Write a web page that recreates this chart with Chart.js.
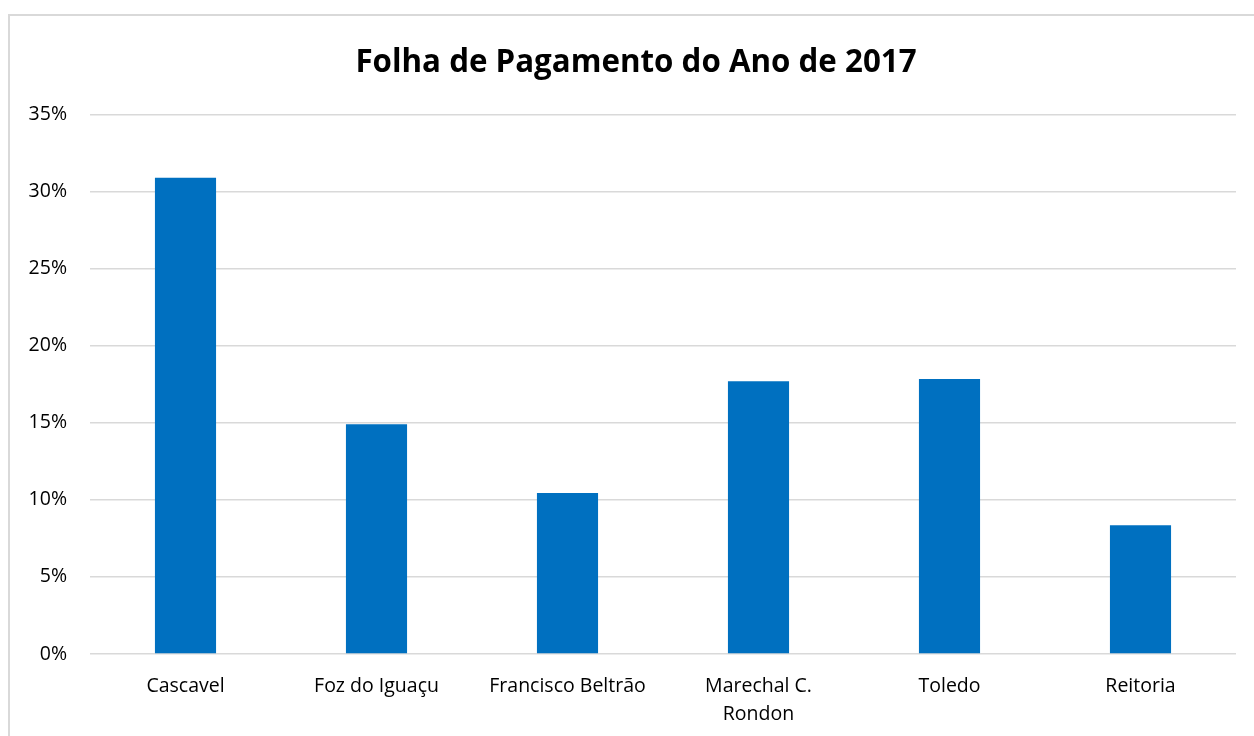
<!DOCTYPE html>
<html>
<head>
<meta charset="utf-8">
<script src="https://cdn.jsdelivr.net/npm/chart.js@4/dist/chart.umd.min.js"></script>
<style>
  html, body { margin: 0; padding: 0; background: #fff; overflow: hidden; }
  #frame { position: absolute; left: 8px; top: 14px; width: 1300px; height: 800px; border: 2px solid #d9d9d9; box-sizing: border-box; }
  #wrap { position: absolute; left: 0; top: 0; width: 1254px; height: 736px; }
</style>
</head>
<body>
<div id="frame"></div>
<div id="wrap"><canvas id="c" width="1254" height="736"></canvas></div>
<script>
const categories = ['Cascavel', 'Foz do Iguaçu', 'Francisco Beltrão', ['Marechal C.', 'Rondon'], 'Toledo', 'Reitoria'];
const values = [30.9, 14.9, 10.45, 17.7, 17.85, 8.35];
const yTicks = [0, 5, 10, 15, 20, 25, 30, 35];
const titleText = 'Folha de Pagamento do Ano de 2017';

const FONT = '"Open Sans", sans-serif';

// shift the title's box so it is centred like the reference (around x = 636)
const titleShift = {
  id: 'titleShift',
  afterLayout(chart) {
    const t = chart.titleBlock;
    if (t) { t.left += 36; t.width -= 36; }
  }
};

new Chart(document.getElementById('c'), {
  type: 'bar',
  data: {
    labels: categories,
    datasets: [{
      data: values,
      backgroundColor: '#0070C0',
      borderWidth: 0,
      categoryPercentage: 1,
      barPercentage: 0.32
    }]
  },
  plugins: [titleShift],
  options: {
    responsive: false,
    animation: false,
    devicePixelRatio: 1,
    layout: { padding: { left: 0, right: 18, top: 0, bottom: 0 } },
    plugins: {
      legend: { display: false },
      tooltip: { enabled: false },
      title: {
        display: true,
        text: titleText,
        color: '#000',
        font: { family: FONT, size: 31.3, weight: 'bold', lineHeight: 1.2 },
        padding: { top: 44, bottom: 33 }
      }
    },
    scales: {
      x: {
        grid: { display: false, drawTicks: false },
        border: { display: false },
        ticks: { color: '#000', font: { family: FONT, size: 19.5, lineHeight: 1.45 }, padding: 18, maxRotation: 0, autoSkip: false },
        afterFit: (s) => { s.height = 82; }
      },
      y: {
        min: 0, max: 35,
        afterBuildTicks: (s) => { s.ticks = yTicks.map(v => ({ value: v })); },
        grid: { color: '#d9d9d9', lineWidth: 1.5, drawTicks: false },
        border: { display: false },
        ticks: { color: '#000', font: { family: FONT, size: 19.5 }, padding: 23, callback: (v) => v + '%' },
        afterFit: (s) => { s.width = 90; }
      }
    }
  }
});
</script>
</body>
</html>
